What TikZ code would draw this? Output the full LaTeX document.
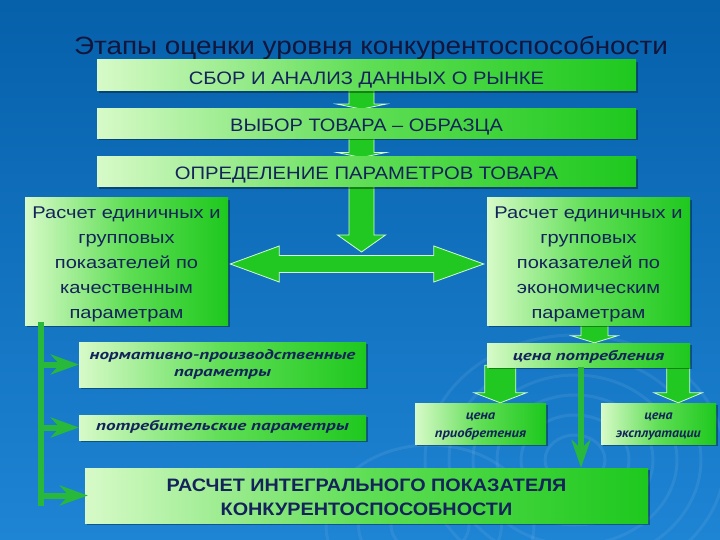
\documentclass[tikz,border=0pt]{standalone}
\usepackage{fontspec}
\setmainfont{Liberation Sans}
\newfontfamily\ptsans{PT Sans}
\usetikzlibrary{calc,arrows.meta,shadows}
\definecolor{bgtop}{RGB}{6,96,170}
\definecolor{bgbot}{RGB}{30,132,212}
\definecolor{boxlight}{RGB}{215,250,200}
\definecolor{boxmid}{RGB}{95,222,85}
\definecolor{boxdark}{RGB}{30,200,30}
\definecolor{navy}{RGB}{20,35,90}
\definecolor{titlecol}{RGB}{18,22,60}
\definecolor{arrgreen}{RGB}{34,200,34}
\definecolor{arredge}{RGB}{205,255,205}
\definecolor{linegreen}{RGB}{40,185,60}
\pgfdeclarelayer{back}
\pgfdeclarelayer{mid}
\pgfsetlayers{back,mid,main}
\tikzset{
  gbox/.style={draw=none, left color=boxlight, right color=boxdark, middle color=boxmid,
    text=navy, inner sep=0pt,
    drop shadow={shadow xshift=2pt,shadow yshift=-2pt,opacity=0.35,fill=black}},
  blk/.style={fill=arrgreen, draw=arredge, line width=0.8pt, line join=miter},
  branch/.style={draw=linegreen, line width=6pt, -{Stealth[length=28pt,width=20pt,inset=9pt]}},
  vline/.style={draw=linegreen, line width=6pt},
  ring/.style={draw=white, opacity=0.07, line width=3pt},
}
\newcommand\fs[2]{\fontsize{#1}{#2}\selectfont}
\newcommand\bi{\ptsans\bfseries\itshape}
% #1 horizontal stretch, #2 vertical nudge, #3 lines
\newcommand\tx[3]{\raisebox{#2}[\height][\depth]{\scalebox{#1}[1]{\begin{tabular}{@{}c@{}}#3\end{tabular}}}}
% vertical block arrow: #1 start, #2 tip, #3 shaft half, #4 head half, #5 head length
\newcommand\varrow[5]{%
  \path[blk] let \p1=#1, \p2=#2 in
    (\x1-#3,\y1) -- (\x1+#3,\y1) -- (\x1+#3,\y2+#5) -- (\x1+#4,\y2+#5) -- (\x1,\y2)
    -- (\x1-#4,\y2+#5) -- (\x1-#3,\y2+#5) -- cycle;}
\begin{document}
\begin{tikzpicture}[x=1pt,y=-1pt]
\useasboundingbox (0,0) rectangle (720,540);
\begin{pgfonlayer}{back}
  \begin{scope}
  \clip (0,0) rectangle (720,540);
  \shade[top color=bgtop, bottom color=bgbot] (0,0) rectangle (720,540);
  \foreach \r in {25,45,65,85,105,125}{\draw[ring] (575,460) ellipse ({\r*1.2} and \r);}
  \foreach \r in {30,55,80}{\draw[ring] (430,525) ellipse ({\r*1.3} and \r);}
  \end{scope}
\end{pgfonlayer}

\node[text=titlecol, font=\fs{25}{28}, inner sep=0pt] (title) at (371,49.4)
  {\tx{1.116}{0pt}{Этапы оценки уровня конкурентоспособности}};

\node[gbox, minimum width=539pt, minimum height=30.7pt, font=\fs{18}{22}] (b1) at (366.5,75.3)
  {\tx{1.12}{-5.3pt}{СБОР И АНАЛИЗ ДАННЫХ О РЫНКЕ}};
\node[gbox, minimum width=539pt, minimum height=30pt, font=\fs{18}{22}] (b2) at (366.5,123.3)
  {\tx{1.11}{-3.7pt}{ВЫБОР ТОВАРА – ОБРАЗЦА}};
\node[gbox, minimum width=539pt, minimum height=30pt, font=\fs{18}{22}] (b3) at (366.5,171.7)
  {\tx{1.125}{-3.7pt}{ОПРЕДЕЛЕНИЕ ПАРАМЕТРОВ ТОВАРА}};

\node[gbox, minimum width=203pt, minimum height=127pt, font=\fs{17}{25}] (L) at (126.5,261.5)
  {\tx{1.18}{-2.1pt}{Расчет единичных и\\групповых\\показателей по\\качественным\\параметрам}};
\node[gbox, minimum width=203pt, minimum height=127pt, font=\fs{17}{25}] (R) at (588.5,261.5)
  {\tx{1.18}{-2.1pt}{Расчет единичных и\\групповых\\показателей по\\экономическим\\параметрам}};

\node[gbox, minimum width=287pt, minimum height=45pt, font=\fs{14}{17}\bi] (n1) at (222.5,364.5)
  {\tx{1.36}{0pt}{нормативно-производственные\\параметры}};
\node[gbox, minimum width=287pt, minimum height=25pt, font=\fs{14}{17}\bi] (n2) at (222.5,427.5)
  {\tx{1.37}{0pt}{потребительские параметры}};

\node[gbox, minimum width=203pt, minimum height=24pt, font=\fs{14}{17}\bi] (P) at (588.5,355)
  {\tx{1.35}{-2pt}{цена потребления}};
\node[gbox, minimum width=131pt, minimum height=41pt, font=\fs{13}{18}\bi] (P1) at (480.5,423.5)
  {\tx{1.12}{-1pt}{цена\\приобретения}};
\node[gbox, minimum width=115pt, minimum height=41pt, font=\fs{13}{18}\bi] (P2) at (658.5,423.5)
  {\tx{1.07}{-1pt}{цена\\эксплуатации}};

\node[gbox, minimum width=563pt, minimum height=55pt, font=\fs{18}{24}\bfseries] (F) at (366.5,495.5)
  {\tx{1.1}{-3.6pt}{РАСЧЕТ ИНТЕГРАЛЬНОГО ПОКАЗАТЕЛЯ\\КОНКУРЕНТОСПОСОБНОСТИ}};

% block arrows
\coordinate (t3) at (361,252);
\begin{pgfonlayer}{mid}
  \varrow{([xshift=-5pt,yshift=2pt]b1.south)}{([xshift=-5pt,yshift=-1pt]b2.north)}{12.5pt}{24.5pt}{5pt}
  \varrow{([xshift=-5pt,yshift=2pt]b2.south)}{([xshift=-5pt,yshift=-1pt]b3.north)}{12.5pt}{24.5pt}{5pt}
  \varrow{([xshift=-5pt,yshift=2pt]b3.south)}{(t3)}{12.5pt}{24pt}{17pt}
  \varrow{([xshift=6pt,yshift=2pt]R.south)}{([xshift=6pt]P.north)}{13.5pt}{23pt}{7pt}
  \varrow{([xshift=13.5pt,yshift=2pt]P.south west)}{([xshift=13.5pt]P1.north)}{15.5pt}{26pt}{10pt}
  \varrow{([xshift=-12pt,yshift=2pt]P.south east)}{([xshift=-12pt]P2.north)}{11.5pt}{24pt}{10pt}
  \path[blk] let \p1=(L.east), \p2=(R.west) in
    (\x1+2pt,\y1-2.5pt) -- (\x1+51pt,\y1+15.5pt) -- (\x1+51pt,\y1+6pt) -- (\x2-53pt,\y1+6pt)
    -- (\x2-53pt,\y1+15.5pt) -- (\x2-3pt,\y1-2.5pt) -- (\x2-53pt,\y1-20.5pt) -- (\x2-53pt,\y1-11pt)
    -- (\x1+51pt,\y1-11pt) -- (\x1+51pt,\y1-20.5pt) -- cycle;
\end{pgfonlayer}

% left bus line with branches
\coordinate (v0) at ($(L.south west)+(16,-3)$);
\coordinate (v1) at ($(v0)+(0,184)$);
\draw[vline] (v0) -- (v1);
\draw[branch] (v0 |- n1.west) -- (n1.west);
\draw[branch] (v0 |- n2.west) -- (n2.west);
\draw[branch] (v0 |- F.west) -- ([xshift=3pt]F.west);
% thin arrow from price of consumption to final box
\draw[branch,-{Stealth[length=28pt,width=19pt,inset=9pt]}] ([xshift=-7.5pt]P.south) -- ([xshift=-7.5pt]P.south |- F.north);
\end{tikzpicture}
\end{document}
